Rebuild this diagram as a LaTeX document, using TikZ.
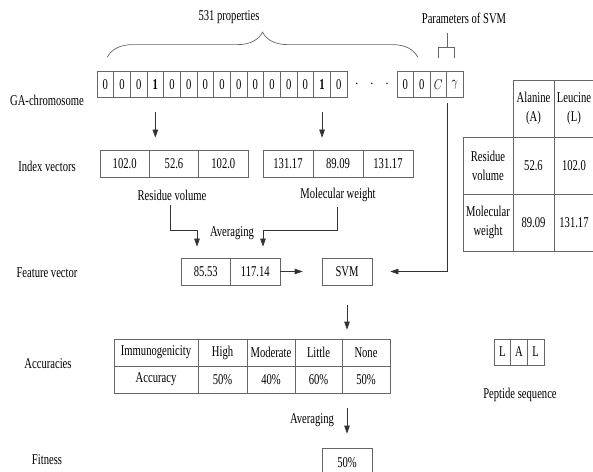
\documentclass[tikz,border=0pt]{standalone}
\usepackage{graphicx}
\usepackage{fontspec}
\setmainfont{Liberation Serif}[FakeStretch=0.71]
\usetikzlibrary{arrows.meta,decorations.pathreplacing,calc}
\begin{document}
\begin{tikzpicture}[x=1bp,y=-1bp]
	\tikzset{cel/.style={draw=black!60, line width=0.7bp, minimum height=26bp, inner sep=0pt, font=\fontsize{15}{19}\selectfont, align=center},
		lbl/.style={font=\fontsize{15}{18}\selectfont, inner sep=1pt},
		arr/.style={-{Triangle[length=8bp,width=5.5bp]}, line width=0.7bp, black!80},
		brk/.style={draw=black!60, line width=0.7bp}}
	\useasboundingbox (0,0) rectangle (593,472);
	% GA-chromosome
	\foreach \v [count=\i] in {0,0,0,\textbf{1},0,0,0,0,0,0,0,0,0,\textbf{1},0}
		\node[cel, minimum width=16.67bp] (g\i) at ({97+(\i-0.5)*16.67},84.5) {\v};
	\node[lbl] (dots) at (372,84.5) {$\cdot\;\;\cdot\;\;\cdot$};
	\foreach \v [count=\i] in {0,0,\scalebox{0.78}[1]{$C$},\scalebox{0.78}[1]{$\gamma$}}
		\node[cel, minimum width=16.5bp] (h\i) at ({397+(\i-0.5)*16.5},84.5) {\v};
	\node[lbl] (chr) at (47,100) {GA-chromosome};
	\draw[brk, decorate, decoration={brace, amplitude=25bp}] ($(g1.north)+(2,-14)$) -- ($(h2.north)+(-4,-14)$);
	\node[lbl] (np) at (229,17) {531 properties};
	\draw[brk] ($(h3.north)+(0,-13)$) |- ($(h3.north east)+(0,-24)$) -| ($(h4.north)+(0,-13)$);
	\draw[brk] ($(h3.north east)+(0,-24)$) -- ++(0,-14);
	\node[lbl] (ps) at (464,18) {Parameters of SVM};
	% index vectors
	\foreach \v [count=\i] in {102.0,52.6,102.0}
		\node[cel, minimum width=49.33bp, minimum height=27bp] (rv\i) at ({100+(\i-0.5)*49.33},163.5) {\v};
	\foreach \v [count=\i] in {131.17,89.09,131.17}
		\node[cel, minimum width=50bp, minimum height=27bp] (mw\i) at ({263+(\i-0.5)*50},163.5) {\v};
	\node[lbl] (iv) at (47,166) {Index vectors};
	\draw[arr, shorten <=14bp, shorten >=12bp] (g4.south) -- (g4.south |- rv1.north);
	\draw[arr, shorten <=14bp, shorten >=12bp] (g14.south) -- (g14.south |- mw1.north);
	\node[lbl] (rvl) at (172,195) {Residue volume};
	\node[lbl] (mwl) at (338,195) {Molecular weight};
	\node[lbl] (avg1) at (232,233) {Averaging};
	% feature vector
	\foreach \v [count=\i] in {85.53,117.14}
		\node[cel, minimum width=49.5bp, minimum height=27bp] (fv\i) at ({181+(\i-0.5)*49.5},271.5) {\v};
	\node[lbl] (fvl) at (47,273) {Feature vector};
	\coordinate (a1) at (197,230);
	\coordinate (a2) at (263,230);
	\draw[arr, shorten >=11bp] ($(rvl.south)+(-2,4)$) |- (a1) -- (a1 |- fv1.north);
	\draw[arr, shorten >=11bp] ($(mwl.south)+(-1,4)$) |- (a2) -- (a2 |- fv1.north);
	\node[cel, minimum width=50bp, minimum height=27bp] (svm) at (347,271.5) {SVM};
	\draw[arr, shorten >=19bp] (fv2.east) -- (svm.west);
	\draw[arr, shorten <=5bp, shorten >=18bp] (h4.south -| h3.east) |- (svm.east);
	% accuracies
	\foreach \xa/\xb/\t/\u [count=\i] in {114/198/Immunogenicity/Accuracy, 198/247/High/50\%, 247/295/Moderate/40\%, 295/342/Little/60\%, 342/390/None/50\%}{
		\node[cel, minimum width={(\xb-\xa)*1bp}, minimum height=27bp] (ta\i) at ({(\xa+\xb)/2},352.5) {\t};
		\node[cel, minimum width={(\xb-\xa)*1bp}, minimum height=27bp] (tb\i) at ({(\xa+\xb)/2},379.5) {\u};
	}
	\node[lbl] (acl) at (48,364) {Accuracies};
	\draw[arr, shorten <=20bp, shorten >=9bp] (svm.south) -- (svm.south |- ta5.north);
	\node[cel, minimum width=50bp, minimum height=30bp] (fit) at (347,463) {50\%};
	\draw[arr, shorten <=15bp, shorten >=14bp] (svm.south |- tb5.south) -- (fit.north);
	\node[lbl] (avg2) at (312,420) {Averaging};
	\node[lbl] (ftl) at (47,460) {Fitness};
	% amino acid table
	\node[cel, minimum width=41bp, minimum height=57bp] (rt-a) at (533.5,108.5) {Alanine\\(A)};
	\node[cel, minimum width=40bp, minimum height=57bp] (rt-l) at (574,108.5) {Leucine\\(L)};
	\node[cel, minimum width=50bp, minimum height=57bp] (rt-rv) at (488,165.5) {Residue\\volume};
	\node[cel, minimum width=41bp, minimum height=57bp] (rt-rva) at (533.5,165.5) {52.6};
	\node[cel, minimum width=40bp, minimum height=57bp] (rt-rvl) at (574,165.5) {102.0};
	\node[cel, minimum width=50bp, minimum height=57bp] (rt-mw) at (488,222.5) {Molecular\\weight};
	\node[cel, minimum width=41bp, minimum height=57bp] (rt-mwa) at (533.5,222.5) {89.09};
	\node[cel, minimum width=40bp, minimum height=57bp] (rt-mwl) at (574,222.5) {131.17};
	% peptide
	\foreach \v [count=\i] in {L,A,L}
		\node[cel, minimum width=16.67bp] (pp\i) at ({494+(\i-0.5)*16.67},352) {\v};
	\node[lbl] (ppl) at (520,395) {Peptide sequence};
\end{tikzpicture}
\end{document}
